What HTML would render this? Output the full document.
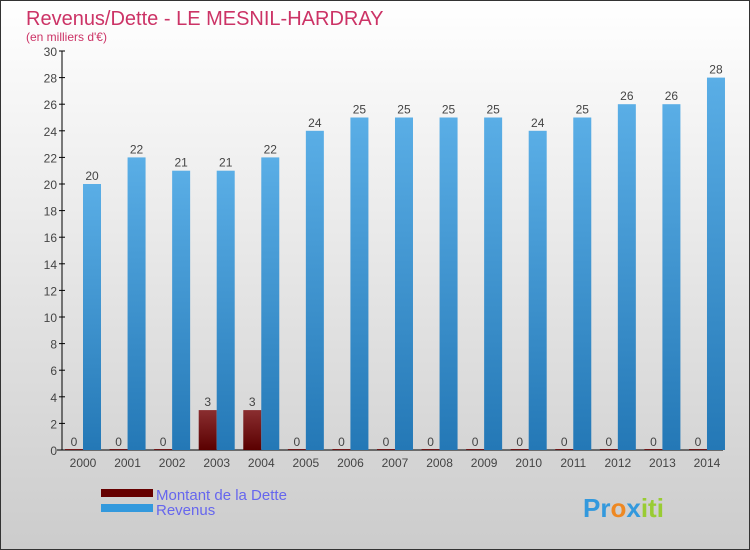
<!DOCTYPE html>
<html><head><meta charset="utf-8"><style>
body{margin:0}
#c{position:relative;width:748px;height:548px;border:1px solid #333;background:linear-gradient(#fff,#ccc);font-family:"Liberation Sans",sans-serif;overflow:hidden}
</style></head><body>
<div id="c">
<svg id="s" width="748" height="548">
<defs>
<linearGradient id="gr" x1="0" y1="0" x2="0" y2="1"><stop offset="0" stop-color="#5aaee6"/><stop offset="1" stop-color="#2478b6"/></linearGradient>
<linearGradient id="gd" x1="0" y1="0" x2="0" y2="1"><stop offset="0" stop-color="#8a2e30"/><stop offset="1" stop-color="#5a0000"/></linearGradient>
</defs>
<text x="25" y="24" font-size="20" fill="#cc3366">Revenus/Dette - LE MESNIL-HARDRAY</text>
<text x="25" y="40" font-size="12" fill="#cc3366">(en milliers d'€)</text>
<g id="g"></g>
<rect x="100" y="488" width="52" height="8" fill="#660000"/>
<rect x="100" y="503" width="52" height="8" fill="#3399dd"/>
<text x="155" y="499" font-size="15" fill="#6666ee">Montant de la Dette</text>
<text x="155" y="514" font-size="15" fill="#6666ee">Revenus</text>
<text x="582" y="516" font-size="26" font-weight="bold"><tspan fill="#3399dd">Pr</tspan><tspan fill="#ee8822">o</tspan><tspan fill="#3399dd">x</tspan><tspan fill="#99cc33">iti</tspan></text>
</svg>
</div>
<script>
const years=[2000,2001,2002,2003,2004,2005,2006,2007,2008,2009,2010,2011,2012,2013,2014];
const debt=[0,0,0,3,3,0,0,0,0,0,0,0,0,0,0];
const revenue=[20,22,21,21,22,24,25,25,25,25,24,25,26,26,28];
const yTicks=[0,2,4,6,8,10,12,14,16,18,20,22,24,26,28,30];
const NS="http://www.w3.org/2000/svg";
const g=document.getElementById('g');
const y=v=>449-v*(399/30);
const x=i=>82+i*44.57;
function mk(t,a){const e=document.createElementNS(NS,t);for(const k in a)e.setAttribute(k,a[k]);g.appendChild(e);return e;}
let ax=mk('line',{x1:61,y1:y(30),x2:61,y2:449,stroke:'#000'});


let bx=mk('line',{x1:56,y1:449,x2:722,y2:449,stroke:'#000'});


yTicks.forEach(v=>{
 let l=mk('line',{x1:58,y1:y(v),x2:64,y2:y(v),stroke:'#000'});
 
 
 let t=mk('text',{x:56,y:y(v)+5,'font-size':12,fill:'#444','text-anchor':'end'});t.textContent=v;
 
 
});
years.forEach((yr,i)=>{
 const cx=x(i);
 let d=mk('rect',{x:cx-18,y:y(debt[i])-(debt[i]?0:1),width:18,height:Math.max(1,449-y(debt[i])),fill:'url(#gd)'});
 
 
 let r=mk('rect',{x:cx,y:y(revenue[i]),width:18,height:449-y(revenue[i]),fill:'url(#gr)'});
 
 
 let t1=mk('text',{x:cx-9,y:y(debt[i])-4,'font-size':12,fill:'#444','text-anchor':'middle'});t1.textContent=debt[i];
 
 
 let t2=mk('text',{x:cx+9,y:y(revenue[i])-4,'font-size':12,fill:'#444','text-anchor':'middle'});t2.textContent=revenue[i];
 
 
 let tl=mk('text',{x:cx,y:466,'font-size':12,fill:'#444','text-anchor':'middle'});tl.textContent=yr;
 
 
});
</script>
</body></html>
